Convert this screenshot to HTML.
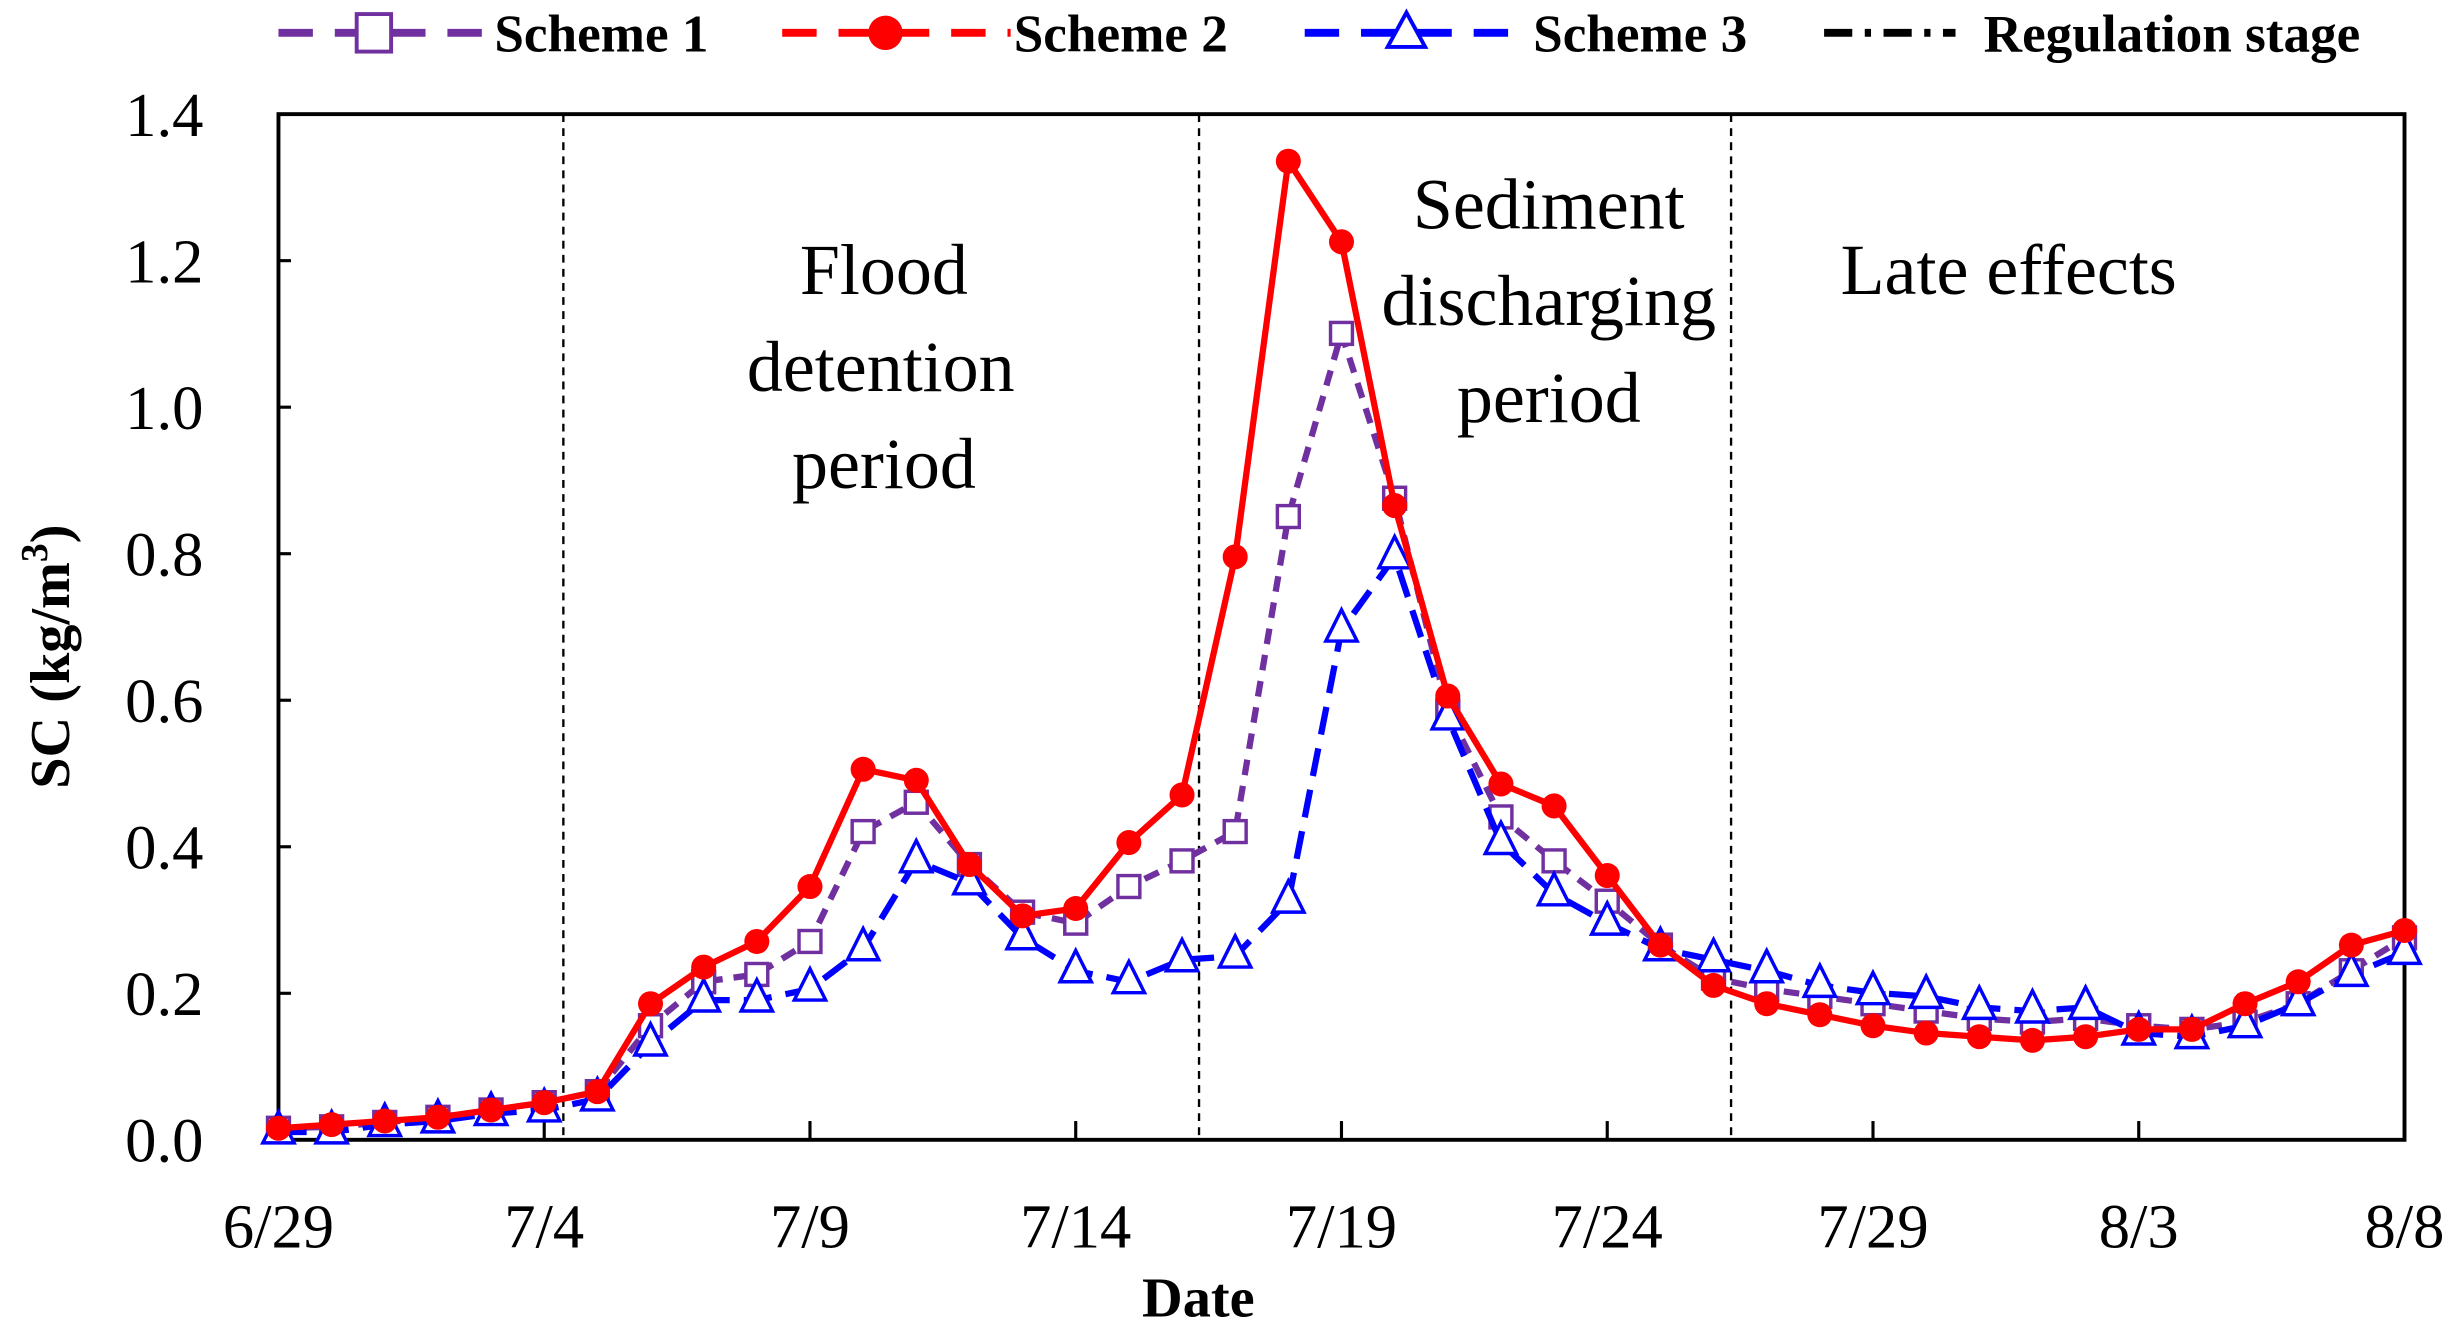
<!DOCTYPE html>
<html><head><meta charset="utf-8"><style>
html,body{margin:0;padding:0;background:#fff;}
svg{display:block;}
text{font-family:"Liberation Serif",serif;}
</style></head><body>
<svg id="chart" width="2453" height="1329" viewBox="0 0 1568 850" preserveAspectRatio="none" xmlns="http://www.w3.org/2000/svg">
<g id="legend"></g>
<g id="grid"></g>
<g id="series"></g>
<g id="labels"></g>
</svg>
<script>
const days = [...Array(41).keys()];
const scheme1 = [0.02,0.022,0.028,0.035,0.045,0.055,0.07,0.16,0.22,0.23,0.275,0.425,0.465,0.38,0.315,0.30,0.35,0.385,0.425,0.855,1.105,0.88,0.59,0.445,0.385,0.33,0.27,0.225,0.21,0.20,0.19,0.18,0.17,0.165,0.17,0.16,0.155,0.165,0.19,0.235,0.28];
const scheme2 = [0.02,0.025,0.03,0.035,0.045,0.055,0.07,0.19,0.24,0.275,0.35,0.51,0.495,0.38,0.31,0.32,0.41,0.475,0.80,1.34,1.23,0.87,0.61,0.49,0.46,0.365,0.27,0.215,0.19,0.175,0.16,0.15,0.145,0.14,0.145,0.155,0.155,0.19,0.22,0.27,0.29];
const scheme3 = [0.015,0.015,0.025,0.03,0.04,0.045,0.06,0.135,0.195,0.195,0.21,0.265,0.385,0.355,0.28,0.235,0.22,0.25,0.255,0.33,0.70,0.80,0.58,0.41,0.34,0.30,0.265,0.25,0.235,0.215,0.205,0.20,0.185,0.18,0.185,0.15,0.145,0.16,0.19,0.23,0.26];
const xTickDays = [0,5,10,15,20,25,30,35,40];
const xTickLabels = ["6/29","7/4","7/9","7/14","7/19","7/24","7/29","8/3","8/8"];
const yTicks = [0,0.2,0.4,0.6,0.8,1.0,1.2,1.4];
const stageDays = [5.36,17.32,27.33];

const NS="http://www.w3.org/2000/svg";
const L=178,R=1537,T=73,B=729;
const xs=d=>L+(R-L)*d/40;
const ys=v=>B-(B-T)*v/1.4+2;
function mk(tag,attrs,parent){const e=document.createElementNS(NS,tag);for(const k in attrs)e.setAttribute(k,attrs[k]);parent.appendChild(e);return e;}
const grid=document.getElementById('grid'),series=document.getElementById('series'),labels=document.getElementById('labels'),legend=document.getElementById('legend');

// stage lines
stageDays.forEach(d=>{const l=mk('line',{x1:xs(d),x2:xs(d),y1:T,y2:B,stroke:'#000','stroke-width':1.5,'stroke-dasharray':'5,4'},grid);

});
// frame
const fr=mk('rect',{x:L,y:T,width:R-L,height:B-T,fill:'none',stroke:'#000','stroke-width':2.5},grid);


// x ticks
xTickDays.forEach((d,i)=>{mk('line',{x1:xs(d),x2:xs(d),y1:B,y2:B-12,stroke:'#000','stroke-width':2},grid);
const t=mk('text',{x:xs(d),y:798,'font-size':40,'text-anchor':'middle',fill:'#000'},labels);t.textContent=xTickLabels[i];

});
yTicks.forEach(v=>{mk('line',{x1:L,x2:L+8,y1:ys(v)-2,y2:ys(v)-2,stroke:'#000','stroke-width':2},grid);
const t=mk('text',{x:130,y:ys(v)+12,'font-size':40,'text-anchor':'end',fill:'#000'},labels);t.textContent=v.toFixed(1);

});

function drawSeries(vals,color,dash,width,marker,name){
  const g=mk('g',{},series);
  
  
  const pts=vals.map((v,i)=>xs(days[i])+','+ys(v)).join(' ');
  const attrs={points:pts,fill:'none',stroke:color,'stroke-width':width,'stroke-linejoin':'round'};
  if(dash)attrs['stroke-dasharray']=dash;
  mk('polyline',attrs,g);
  vals.forEach((v,i)=>{const x=xs(days[i]),y=ys(v);let m;
    if(marker==='square')m=mk('rect',{x:x-7,y:y-7,width:14,height:14,fill:'#fff',stroke:color,'stroke-width':2.2},g);
    else if(marker==='circle')m=mk('circle',{cx:x,cy:y,r:8,fill:color},g);
    else m=mk('polygon',{points:`${x},${y-13} ${x-10},${y+7} ${x+10},${y+7}`,fill:'#fff',stroke:color,'stroke-width':2.2},g);
    
    });
}
drawSeries(scheme1,'#7030a0','10,7',4,'square','scheme-1');
drawSeries(scheme3,'#0000ff','18,9',4,'triangle','scheme-3');
drawSeries(scheme2,'#ff0000',null,4,'circle','scheme-2');

// annotations
function txt(x,y,s,size,name,extra){const t=mk('text',Object.assign({x:x,y:y,'font-size':size,'text-anchor':'middle',fill:'#000'},extra||{}),labels);t.textContent=s;

return t;}
txt(565,188,'Flood',46,'flood-label');
txt(563,250,'detention',46,'flood-label-2');
txt(565,312,'period',46,'flood-label-3');
txt(990,146,'Sediment',46,'sediment-label');
txt(990,208,'discharging',46,'sediment-label-2');
txt(990,270,'period',46,'sediment-label-3');
txt(1284,188,'Late effects',46,'late-effects-label');
txt(766,842,'Date',36,'x-axis-title',{'font-weight':'bold'});
const yt=mk('text',{x:0,y:0,'font-size':36,'font-weight':'bold','text-anchor':'middle',transform:'translate(44,420) rotate(-90)'},labels);


yt.innerHTML='SC (kg/m<tspan dy="-14" font-size="24">3</tspan><tspan dy="14">)</tspan>';

// legend
const leg=[['Scheme 1','#7030a0','square',178,316],['Scheme 2','#ff0000','circle',500,648],['Scheme 3','#0000ff','triangle',834,980],['Regulation stage','#000','none',1166,1268]];
leg.forEach(([lab,c,m,x0,tx])=>{const g=mk('g',{},legend);


const y=21;
if(m==='none'){mk('line',{x1:x0,x2:x0+84,y1:y,y2:y,stroke:c,'stroke-width':5,'stroke-dasharray':'18,8,4,8'},g);}
else{mk('line',{x1:x0,x2:tx-2,y1:y,y2:y,stroke:c,'stroke-width':5,'stroke-dasharray':'22,14'},g);
const cx=(x0+tx)/2-8;
if(m==='square')mk('rect',{x:cx-11,y:y-12,width:22,height:24,fill:'#fff',stroke:c,'stroke-width':2.5},g);
else if(m==='circle')mk('circle',{cx:cx,cy:y,r:11,fill:c},g);
else mk('polygon',{points:`${cx},${y-13} ${cx-12},${y+9} ${cx+12},${y+9}`,fill:'#fff',stroke:c,'stroke-width':2.5},g);}
const t=mk('text',{x:tx,y:33,'font-size':34,'font-weight':'bold',fill:'#000'},g);t.textContent=lab;});
</script>
</body></html>
